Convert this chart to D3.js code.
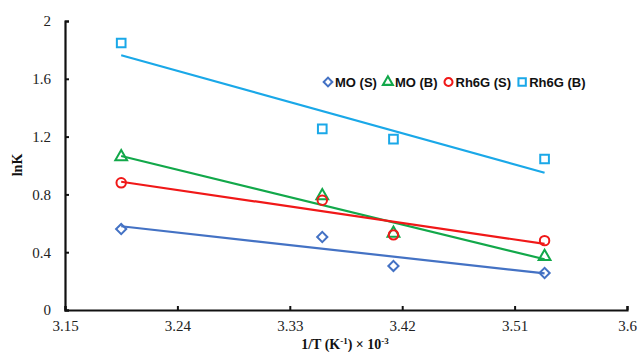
<!DOCTYPE html>
<html>
<head>
<meta charset="utf-8">
<script src="https://cdn.jsdelivr.net/npm/d3@7"></script>
<style>
  body { margin: 0; background: #fff; }
  .tick-label { font-family: "Liberation Serif", "Times New Roman", serif; font-size: 15px; fill: #222; }
  .axis-title { font-family: "Liberation Serif", "Times New Roman", serif; font-size: 14px; font-weight: bold; fill: #111; }
  .legend-text { font-family: "Liberation Sans", Arial, sans-serif; font-size: 13px; font-weight: bold; fill: #111; }
</style>
</head>
<body>
<div id="chart"></div>
<script>
// data: 1/T (x10^-3) and lnK for each series
var xValues = [3.195, 3.356, 3.413, 3.534];
var moS = [0.56, 0.505, 0.305, 0.256];
var moB = [1.06, 0.79, 0.53, 0.37];
var rhS = [0.88, 0.76, 0.52, 0.48];
var rhB = [1.848, 1.253, 1.183, 1.045];

var seriesNames = ['MO (S)', 'MO (B)', 'Rh6G (S)', 'Rh6G (B)'];
var seriesColors = ['#4472c4', '#12a84a', '#f01818', '#1aa8e8'];
var seriesShapes = ['diamond', 'triangle', 'circle', 'square'];

var xTicks = [3.15, 3.24, 3.33, 3.42, 3.51, 3.6];
var yTicks = [0, 0.4, 0.8, 1.2, 1.6, 2];

var width = 640, height = 352;
var margin = { left: 65, right: 13, top: 21, bottom: 42 };

var svg = d3.select('#chart')
    .append('svg')
    .attr('width', width)
    .attr('height', height)
    .style('background', '#fff');

var x = d3.scaleLinear()
    .domain([3.15, 3.6])
    .range([margin.left, width - margin.right]);
var y = d3.scaleLinear()
    .domain([0, 2])
    .range([height - margin.bottom, margin.top]);

// axes - ticks point inward like the Excel chart
var xAxis = svg.append('g')
    .attr('transform', 'translate(0,' + y(0) + ')')
    .call(d3.axisBottom(x).tickValues(xTicks).tickSizeInner(-4).tickSizeOuter(-4)
        .tickPadding(10).tickFormat(function (d) { return d; }));
var yAxis = svg.append('g')
    .attr('transform', 'translate(' + x(3.15) + ',0)')
    .call(d3.axisLeft(y).tickValues(yTicks).tickSizeInner(-4).tickSizeOuter(-4)
        .tickPadding(14).tickFormat(function (d) { return d; }));

[xAxis, yAxis].forEach(function (ax) {
    ax.select('.domain').attr('stroke', '#111').attr('stroke-width', 2.2);
    ax.selectAll('.tick line').attr('stroke', '#111').attr('stroke-width', 2);
    ax.selectAll('.tick text').attr('class', 'tick-label').attr('fill', null);
});

// axis titles
var xTitle = svg.append('text')
    .attr('class', 'axis-title')
    .attr('x', 345)
    .attr('y', 349)
    .attr('text-anchor', 'middle');
xTitle.append('tspan').text('1/T (K');
xTitle.append('tspan').attr('dy', -5).attr('font-size', 9).text('-1');
xTitle.append('tspan').attr('dy', 5).text(') \u00d7 10');
xTitle.append('tspan').attr('dy', -5).attr('font-size', 9).text('-3');

svg.append('text')
    .attr('class', 'axis-title')
    .attr('transform', 'translate(22,' + 165 + ') rotate(-90)')
    .attr('text-anchor', 'middle')
    .text('lnK');

// symbols (diamond = square turned 45 degrees)
var symbolTypes = {
    diamond: d3.symbolSquare,
    triangle: d3.symbolTriangle,
    circle: d3.symbolCircle,
    square: d3.symbolSquare
};
var symbolSizes = { diamond: 52, triangle: 60, circle: 70, square: 75 };
function symbolPath(shape) {
    var s = d3.symbol().type(symbolTypes[shape]).size(symbolSizes[shape]);
    return s();
}
function symbolExtra(shape) {
    return shape === 'diamond' ? ' rotate(45)' : '';
}

// least squares trend line
function fit(xs, ys) {
    var mx = d3.mean(xs), my = d3.mean(ys);
    var sxy = 0, sxx = 0;
    xs.forEach(function (v, i) {
        sxy += (v - mx) * (ys[i] - my);
        sxx += (v - mx) * (v - mx);
    });
    var slope = sxy / sxx;
    return function (v) { return my + slope * (v - mx); };
}

var allSeries = [moS, moB, rhS, rhB];
var plot = svg.append('g');

allSeries.forEach(function (vals, i) {
    var f = fit(xValues, vals);
    var ext = d3.extent(xValues);
    plot.append('line')
        .attr('x1', x(ext[0])).attr('y1', y(f(ext[0])))
        .attr('x2', x(ext[1])).attr('y2', y(f(ext[1])))
        .attr('stroke', seriesColors[i])
        .attr('stroke-width', 2.2);
});

allSeries.forEach(function (vals, i) {
    var shape = seriesShapes[i];
    plot.selectAll('.pt' + i)
        .data(vals)
        .enter()
        .append('path')
        .attr('d', symbolPath(shape))
        .attr('transform', function (d, j) {
            return 'translate(' + x(xValues[j]) + ',' + y(d) + ')' + symbolExtra(shape);
        })
        .attr('fill', 'none')
        .attr('stroke', seriesColors[i])
        .attr('stroke-width', 2);
});

// legend
var legend = svg.append('g').attr('transform', 'translate(328,82)');
var lx = 0;
seriesNames.forEach(function (name, i) {
    var shape = seriesShapes[i];
    legend.append('path')
        .attr('d', symbolPath(shape))
        .attr('transform', 'translate(' + lx + ',0) scale(0.85)' + symbolExtra(shape))
        .attr('fill', 'none')
        .attr('stroke', seriesColors[i])
        .attr('stroke-width', 2.4);
    var t = legend.append('text')
        .attr('class', 'legend-text')
        .attr('x', lx + 7)
        .attr('y', 4.5)
        .text(name);
    lx += 7 + t.node().getComputedTextLength() + 11;
});
</script>
</body>
</html>
